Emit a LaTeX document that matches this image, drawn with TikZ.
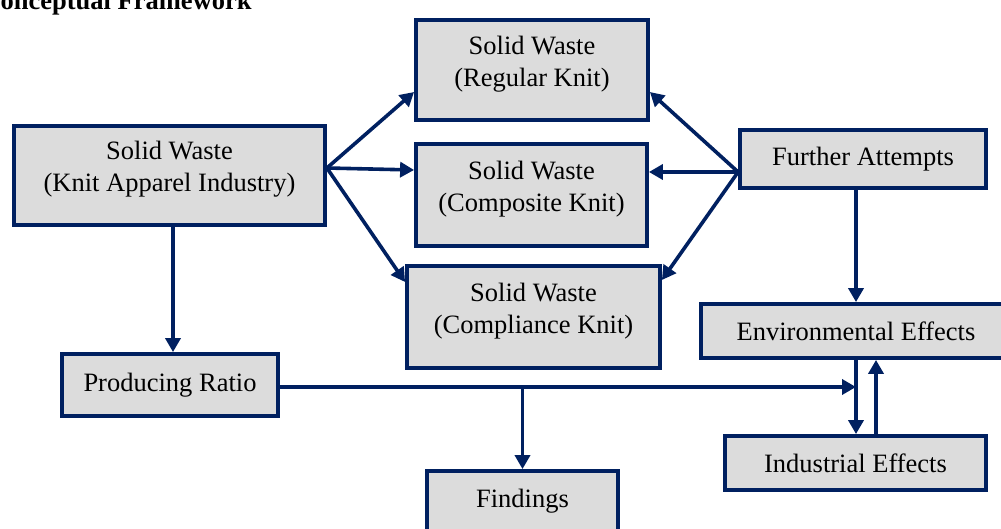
\documentclass[tikz,border=0pt]{standalone}
\usepackage{fontspec}
\setmainfont{Liberation Serif}
\usetikzlibrary{arrows.meta,calc}
\definecolor{navy}{HTML}{002060}
\definecolor{boxgray}{HTML}{DCDCDC}
\begin{document}
\begin{tikzpicture}[x=1pt,y=-1pt,
  box/.style={draw=navy, fill=boxgray, line width=3.8pt, align=center, inner sep=0pt,
    font=\fontsize{26.5}{32}\selectfont},
  twoline/.style={text depth=18pt},
  arr/.style={draw=navy, line width=3.6pt, -{Triangle[length=14pt,width=15pt]}}]
\useasboundingbox (0,0) rectangle (1001,529);
\node[anchor=base west, font=\fontsize{26.5}{32}\selectfont\bfseries] (title) at (-22,10) {Conceptual Framework};

\node[box, twoline, minimum width=311pt, minimum height=99pt] (ka) at (169.5,175.5) {Solid Waste\\(Knit Apparel Industry)};
\node[box, twoline, minimum width=232pt, minimum height=100pt] (reg) at (532,70) {Solid Waste\\(Regular Knit)};
\node[box, twoline, minimum width=231pt, minimum height=102pt] (comp) at (531.5,195) {Solid Waste\\(Composite Knit)};
\node[box, twoline, minimum width=253pt, minimum height=102pt] (compl) at (533.5,317) {Solid Waste\\(Compliance Knit)};
\node[box, minimum width=246pt, minimum height=58pt] (fa) at (863,159) {Further Attempts};
\node[box, minimum width=310pt, minimum height=54pt] (env) at (856,331) {Environmental Effects};
\node[box, minimum width=261pt, minimum height=54pt] (ind) at (855.5,463) {Industrial Effects};
\node[box, minimum width=216pt, minimum height=62pt] (pr) at (170,385) {Producing Ratio};
\node[box, minimum width=191pt, minimum height=60pt] (fd) at (522.5,501) {Findings};

% from knit apparel
\coordinate (kaout) at ([yshift=7.5pt]ka.east);
\draw[arr] (kaout) -- ([yshift=-22pt]reg.west);
\draw[arr] (kaout) -- ([yshift=25pt]comp.west);
\draw[arr] (kaout) -- ([yshift=35pt]compl.west);
% from further attempts
\coordinate (faout) at ([yshift=-13pt]fa.west);
\draw[arr] (faout) -- ([yshift=-22pt]reg.east);
\draw[arr] (faout) -- ([yshift=23pt]comp.east);
\draw[arr] (faout) -- ([yshift=37pt]compl.east);
% verticals
\draw[arr] ([xshift=3.5pt]ka.south) -- ([xshift=3.5pt]ka.south |- pr.north);
\draw[arr] ([xshift=-7pt]fa.south) -- ([xshift=-7pt]fa.south |- env.north);
\draw[arr] (env.south) -- (env.south |- ind.north);
\draw[arr] ([xshift=20pt]env.south |- ind.north) -- ([xshift=20pt]env.south);
% producing ratio line
\coordinate (prout) at ([yshift=-2pt]pr.east);
\coordinate (junc) at (prout -| fd.north);
\draw[arr] (prout) -- (prout -| env.south);
\draw[arr] (junc) -- (fd.north);
\end{tikzpicture}
\end{document}
